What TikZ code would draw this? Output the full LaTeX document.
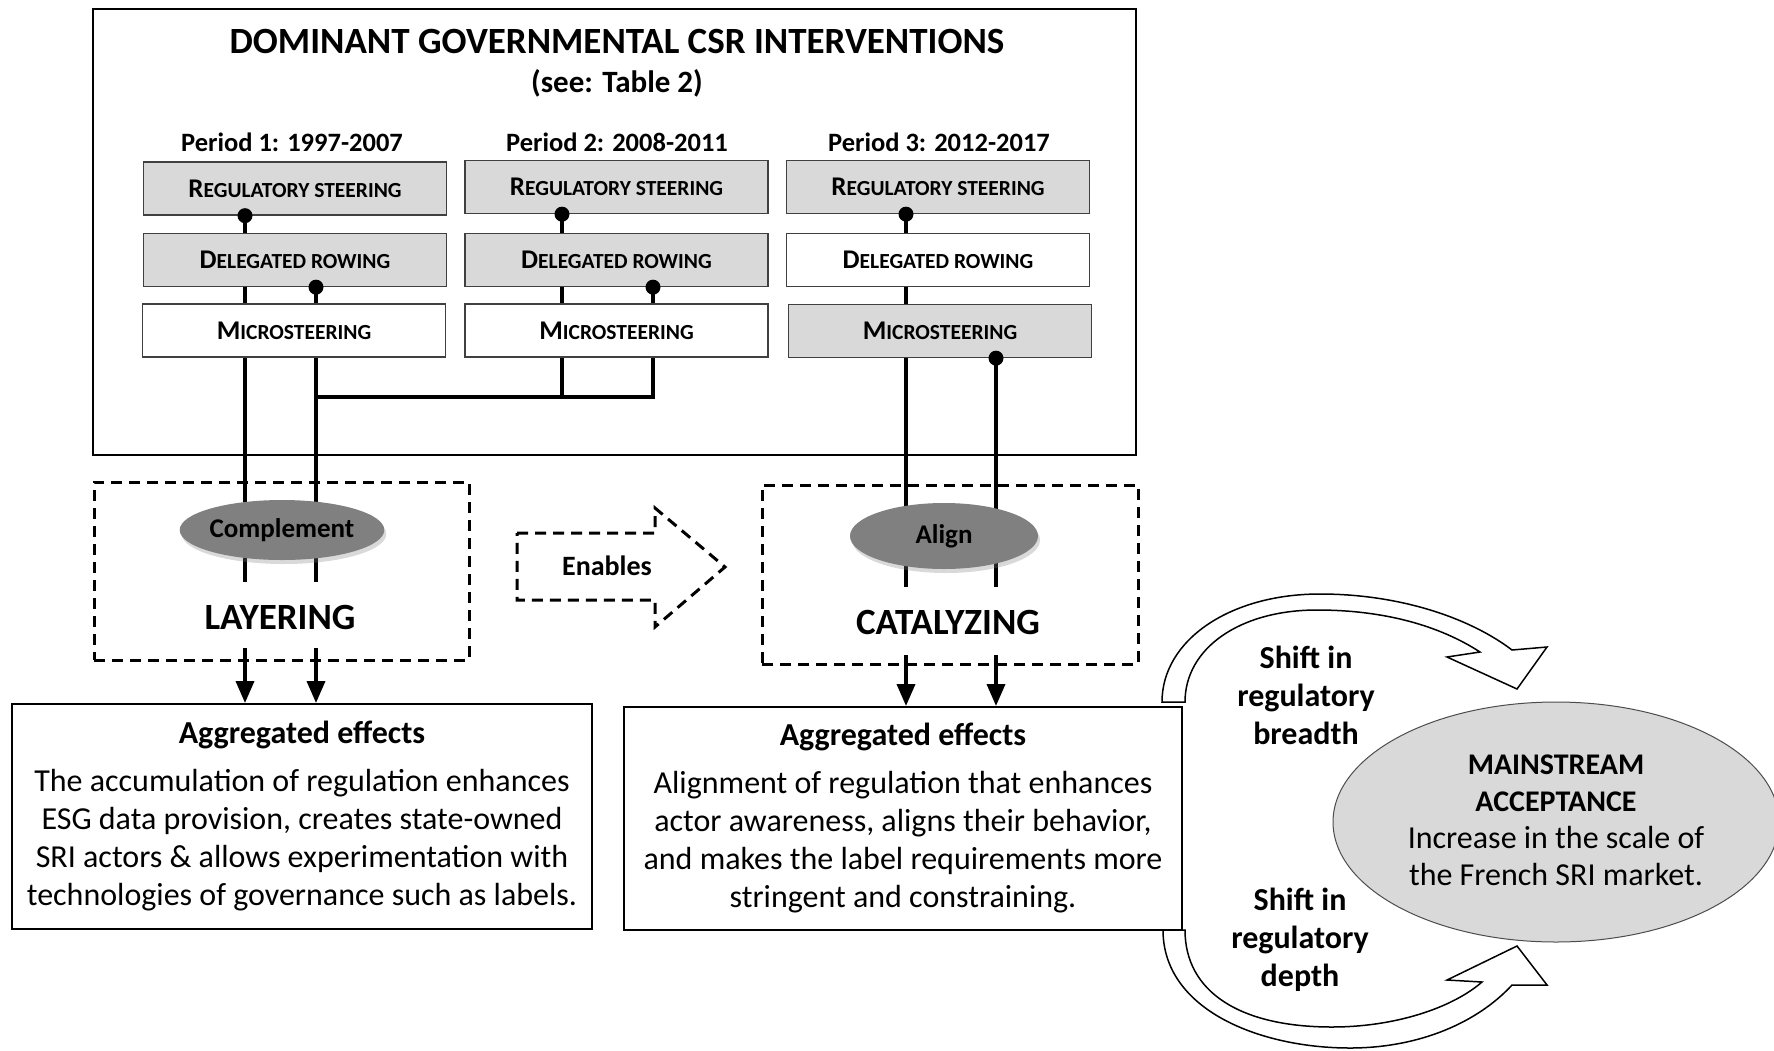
\documentclass[tikz,border=0pt]{standalone}
\usepackage{fontspec}
\setmainfont{Carlito}
\usetikzlibrary{arrows.meta,shadows,shapes.geometric}
\pgfdeclarelayer{bg}
\pgfsetlayers{bg,main}
\definecolor{boxgray}{HTML}{D9D9D9}
\definecolor{ellgray}{HTML}{808080}
\newcommand\fsc[2]{{\fontsize{27}{30}\selectfont #1}{\fontsize{21.5}{30}\selectfont #2}}
\begin{document}
\begin{tikzpicture}[x=1pt,y=-1pt,
  lvl/.style={draw=black!75, line width=1.3pt, minimum width=303pt, minimum height=53pt, inner sep=0pt, fill=white, font=\bfseries},
  grayfill/.style={fill=boxgray},
  conn/.style={line width=3.7pt, line join=miter},
  arr/.style={-{Triangle[length=22pt,width=18pt]}},
  dashbox/.style={draw, line width=3pt, dash pattern=on 11pt off 7pt, inner sep=0pt},
  ell/.style={ellipse, fill=ellgray, inner sep=0pt, drop shadow={opacity=0.3, shadow xshift=2pt, shadow yshift=-4pt}, font=\fontsize{27}{30}\selectfont\bfseries},
  effbox/.style={draw, line width=2pt, inner sep=0pt},
  bendarrow/.style={draw, line width=1.5pt, fill=white, line join=miter},
  txt/.style={align=center, inner sep=0pt}
]
\useasboundingbox (0,0) rectangle (1774,1050);

% top frame
\node[draw, line width=2pt, inner sep=0pt, minimum width=1043pt, minimum height=446pt] (frame) at (614.5,231.5) {};
\node[txt, font=\fontsize{37}{42}\selectfont\bfseries] (title) at (617,41) {DOMINANT GOVERNMENTAL CSR INTERVENTIONS};
\node[txt, font=\fontsize{31}{36}\selectfont\bfseries] (see) at (617,83) {(see: Table 2)};

\node[txt, font=\fontsize{26.5}{30}\selectfont\bfseries] (p1) at (292,142) {Period 1: 1997-2007};
\node[txt, font=\fontsize{26.5}{30}\selectfont\bfseries] (p2) at (617,142) {Period 2: 2008-2011};
\node[txt, font=\fontsize{26.5}{30}\selectfont\bfseries] (p3) at (939,142) {Period 3: 2012-2017};

% level boxes
\node[lvl,grayfill] (r1) at (295,188.5) {\fsc{R}{EGULATORY STEERING}};
\node[lvl,grayfill] (d1) at (295,260) {\fsc{D}{ELEGATED ROWING}};
\node[lvl] (m1) at (294,330.5) {\fsc{M}{ICROSTEERING}};
\node[lvl,grayfill] (r2) at (616.5,187) {\fsc{R}{EGULATORY STEERING}};
\node[lvl,grayfill] (d2) at (616.5,260) {\fsc{D}{ELEGATED ROWING}};
\node[lvl] (m2) at (616.5,330.5) {\fsc{M}{ICROSTEERING}};
\node[lvl,grayfill] (r3) at (938,187) {\fsc{R}{EGULATORY STEERING}};
\node[lvl] (d3) at (938,260) {\fsc{D}{ELEGATED ROWING}};
\node[lvl,grayfill] (m3) at (940,331) {\fsc{M}{ICROSTEERING}};

% guide coordinates
\coordinate (xa) at (245,0);
\coordinate (xb) at (316,0);
\coordinate (xc) at (562,0);
\coordinate (xd) at (653,0);
\coordinate (xe) at (906,0);
\coordinate (xf) at (996,0);
\coordinate (bar) at (0,397);
\coordinate (layS) at (0,582);
\coordinate (layR) at (0,648);
\coordinate (catS) at (0,587);
\coordinate (catR) at (0,655);

% dashed boxes and ellipses
\node[dashbox, minimum width=375pt, minimum height=178pt] (lay) at (281.5,571) {};
\node[dashbox, minimum width=376pt, minimum height=179pt] (cat) at (950,574.5) {};
\node[ell, minimum width=195pt, minimum height=60pt] (cmp) at (282,530) {Complement};
\node[ell, minimum width=188pt, minimum height=66pt] (aln) at (944,536) {Align};
\node[txt, font=\fontsize{37}{42}\selectfont\bfseries] (layt) at (280,617) {LAYERING};
\node[txt, font=\fontsize{37}{42}\selectfont\bfseries] (catt) at (948,622) {CATALYZING};

% enables arrow
\draw[line width=3pt, dash pattern=on 11pt off 7pt] (517,533) -- (655,533) -- (655,508) -- (725,567) -- (655,627) -- (655,600) -- (517,600) -- cycle;
\node[txt, font=\fontsize{28}{32}\selectfont\bfseries] (en) at (607,566) {Enables};

% effect boxes
\node[effbox, minimum width=580pt, minimum height=225pt] (e1) at (301.75,816.5) {};
\node[effbox, minimum width=558pt, minimum height=223pt] (e2) at (903,818.5) {};
\node[txt, font=\fontsize{32}{38}\selectfont\bfseries] (h1) at (302,735) {Aggregated effects};
\node[txt, font=\fontsize{32}{38}\selectfont] (b1) at (302,840) {The accumulation of regulation enhances\\ESG data provision, creates state-owned\\SRI actors \& allows experimentation with\\technologies of governance such as labels.};
\node[txt, font=\fontsize{32}{38}\selectfont\bfseries] (h2) at (903,737) {Aggregated effects};
\node[txt, font=\fontsize{32}{38}\selectfont] (b2) at (903,842) {Alignment of regulation that enhances\\actor awareness, aligns their behavior,\\and makes the label requirements more\\stringent and constraining.};

% curved arrows
\draw[bendarrow] (1162,702) .. controls (1162,640) and (1230,594) .. (1320,594)
  .. controls (1400,594) and (1470,618) .. (1512,650)
  -- (1547,647) -- (1517,689) -- (1447,657) -- (1480,652)
  .. controls (1440,626) and (1385,610) .. (1317,610)
  .. controls (1240,610) and (1185,648) .. (1185,702) -- cycle;
\draw[bendarrow] (1163,930) .. controls (1163,1010) and (1260,1048) .. (1350,1048)
  .. controls (1420,1048) and (1478,1022) .. (1512,985)
  -- (1547,985) -- (1517,946) -- (1447,980) -- (1482,982)
  .. controls (1452,1008) and (1395,1027) .. (1332,1027)
  .. controls (1240,1027) and (1185,992) .. (1185,930) -- cycle;
\node[txt, font=\fontsize{32}{38}\selectfont\bfseries] (sb) at (1306,695) {Shift in\\regulatory\\breadth};
\node[txt, font=\fontsize{32}{38}\selectfont\bfseries] (sd) at (1300,940) {Shift in\\regulatory\\depth};

% mainstream ellipse
\node[ellipse, fill=boxgray, draw=black!70, line width=1pt, inner sep=0pt, minimum width=446pt, minimum height=240pt] (ms) at (1556,822) {};
\node[txt, font=\fontsize{32}{37}\selectfont] (mst) at (1556,820) {{\fontsize{30}{37}\selectfont\bfseries MAINSTREAM}\\{\fontsize{30}{37}\selectfont\bfseries ACCEPTANCE}\\Increase in the scale of\\the French SRI market.};

% connectors
\begin{pgfonlayer}{bg}
\draw[conn] (r1.south -| xa) -- (xa |- layS);
\draw[conn] (d1.south -| xb) -- (xb |- layS);
\draw[conn] (r2.south -| xc) -- (xc |- bar);
\draw[conn] (d2.south -| xd) -- (xd |- bar) -- (xb |- bar);
\draw[conn] (r3.south -| xe) -- (xe |- catS);
\draw[conn] (m3.south -| xf) -- (xf |- catS);
\end{pgfonlayer}
\draw[conn,arr] (xa |- layR) -- (xa |- e1.north);
\draw[conn,arr] (xb |- layR) -- (xb |- e1.north);
\draw[conn,arr] (xe |- catR) -- (xe |- e2.north);
\draw[conn,arr] (xf |- catR) -- (xf |- e2.north);
% dots
\fill (r1.south -| xa) circle (7.5);
\fill (d1.south -| xb) circle (7.5);
\fill (r2.south -| xc) circle (7.5);
\fill (d2.south -| xd) circle (7.5);
\fill (r3.south -| xe) circle (7.5);
\fill (m3.south -| xf) circle (7.5);
\end{tikzpicture}
\end{document}
